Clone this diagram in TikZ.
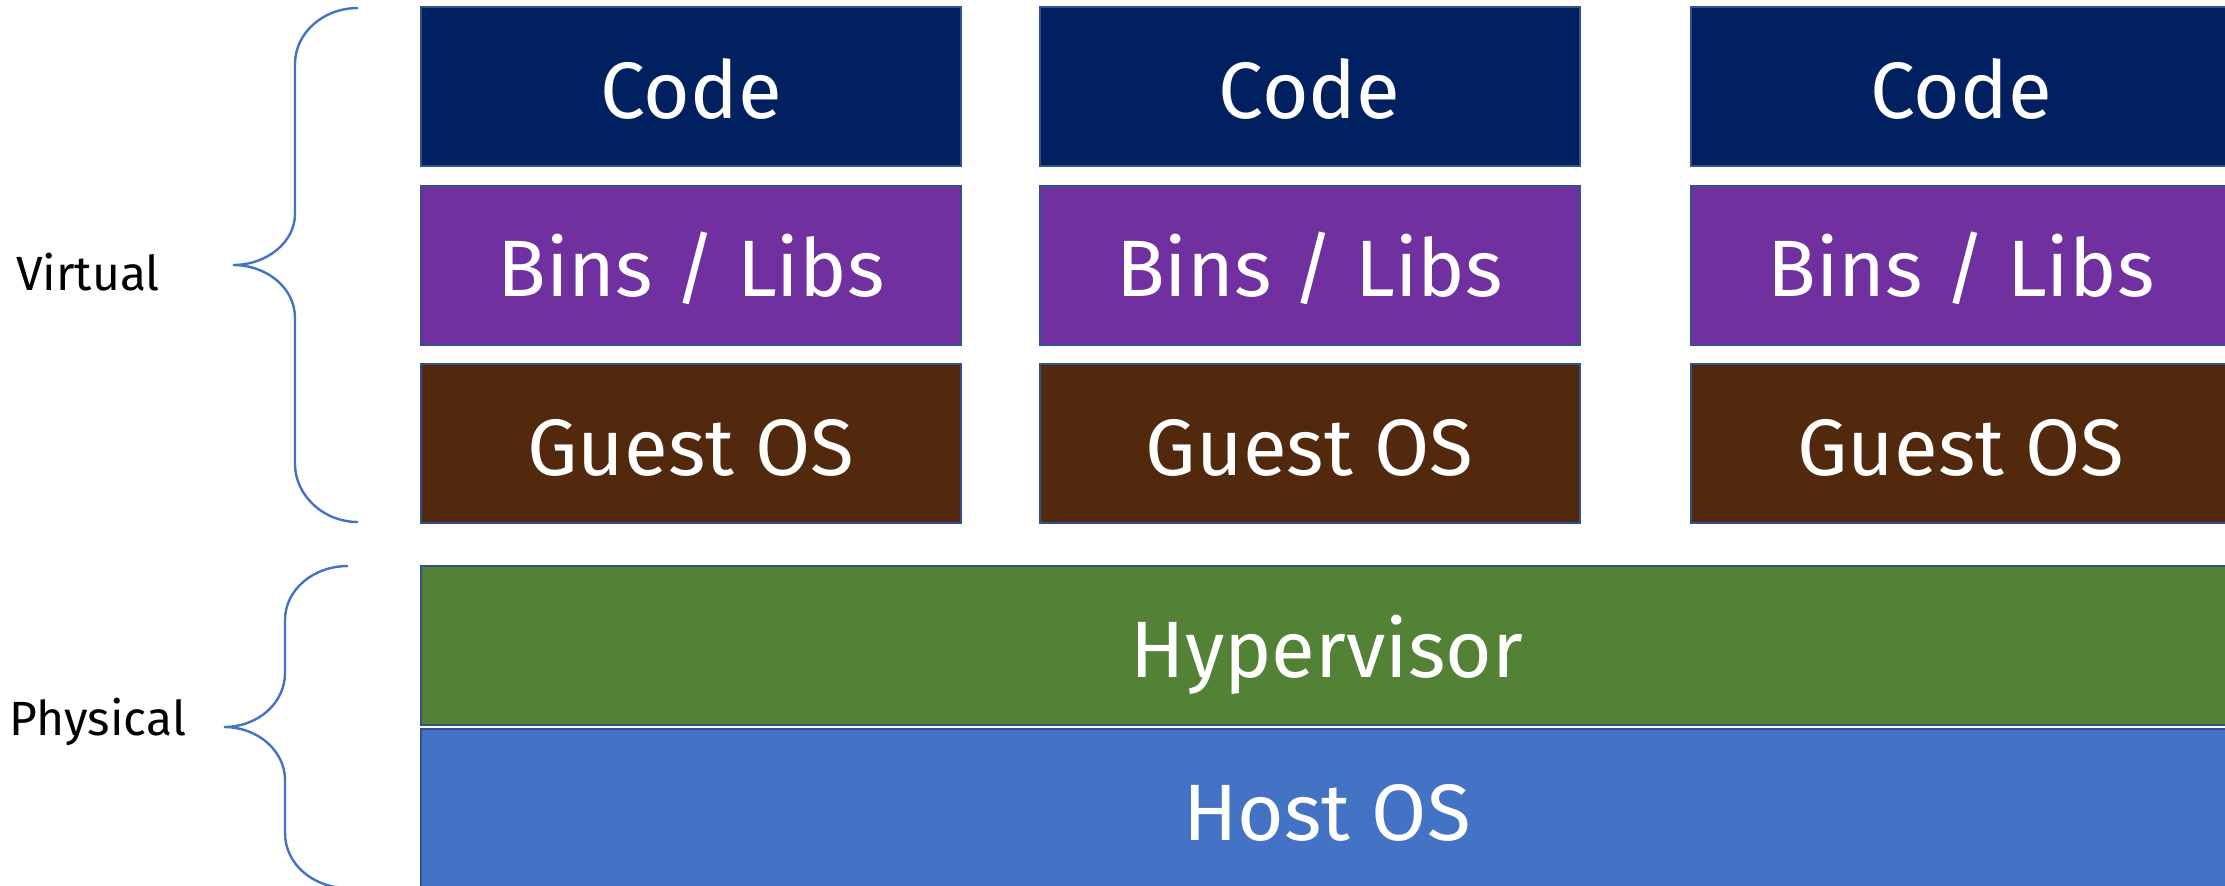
\documentclass[tikz,border=0pt]{standalone}
\usepackage{fontspec}
\setmainfont{Fira Sans}
\definecolor{codeblue}{HTML}{002060}
\definecolor{binspurple}{HTML}{7030A0}
\definecolor{guestbrown}{HTML}{52290C}
\definecolor{hypgreen}{HTML}{538135}
\definecolor{hostblue}{HTML}{4472C4}
\definecolor{edgeblue}{HTML}{2F528F}
\definecolor{bracecol}{HTML}{4472C4}
\tikzset{
  layerbox/.style={draw=edgeblue, line width=1pt, inner sep=0pt, anchor=center,
    text=white, font=\fontsize{40}{48}\selectfont, minimum height=79.5pt,
    text height=31.8pt, text depth=0pt},
  colbox/.style={layerbox, minimum width=270pt},
  widebox/.style={layerbox, minimum width=906pt},
  sidelabel/.style={font=\fontsize{24}{29}\selectfont, text=black, inner sep=0pt, anchor=center},
  bracepath/.style={draw=bracecol, line width=1.2pt}
}
\begin{document}
\begin{tikzpicture}[x=0.5pt,y=-0.5pt]
\useasboundingbox (0,0) rectangle (2225,885);
\clip (0,0) rectangle (2225,885);
% column boxes
\node[colbox, fill=codeblue]   (code1) at (691,86.5)  {Code};
\node[colbox, fill=binspurple] (bins1) at (691,265)   {Bins / Libs};
\node[colbox, fill=guestbrown] (guest1) at (691,443.5) {Guest OS};
\node[colbox, fill=codeblue]   (code2) at (1309.5,86.5)  {Code};
\node[colbox, fill=binspurple] (bins2) at (1309.5,265)   {Bins / Libs};
\node[colbox, fill=guestbrown] (guest2) at (1309.5,443.5) {Guest OS};
\node[colbox, fill=codeblue]   (code3) at (1961,86.5)  {Code};
\node[colbox, fill=binspurple] (bins3) at (1961,265)   {Bins / Libs};
\node[colbox, fill=guestbrown] (guest3) at (1961,443.5) {Guest OS};
% wide boxes
\node[widebox, fill=hypgreen] (hyp) at (1327,645.5) {Hypervisor};
\node[widebox, fill=hostblue] (host) at (1327,808.5) {Host OS};
% labels
\node[sidelabel] (virt) at (88,272) {Virtual};
\node[sidelabel] (phys) at (98,722) {Physical};
% braces
\coordinate (vtop) at (358,8);
\coordinate (vtip) at (233,265);
\coordinate (vbot) at (358,522);
\draw[bracepath] (vtop) .. controls (323,8) and (295,33) .. (295,64)
  -- (295,214) .. controls (295,242) and (267,265) .. (vtip)
  .. controls (267,265) and (295,288) .. (295,318)
  -- (295,464) .. controls (295,495) and (323,522) .. (vbot);
\coordinate (ptop) at (348,566);
\coordinate (ptip) at (224,727);
\coordinate (pbot) at (348,888);
\draw[bracepath] (ptop) .. controls (313,566) and (285,590) .. (285,620)
  -- (285,673) .. controls (285,703) and (258,727) .. (ptip)
  .. controls (258,727) and (285,751) .. (285,780)
  -- (285,833) .. controls (285,864) and (313,888) .. (pbot);
\end{tikzpicture}
\end{document}
